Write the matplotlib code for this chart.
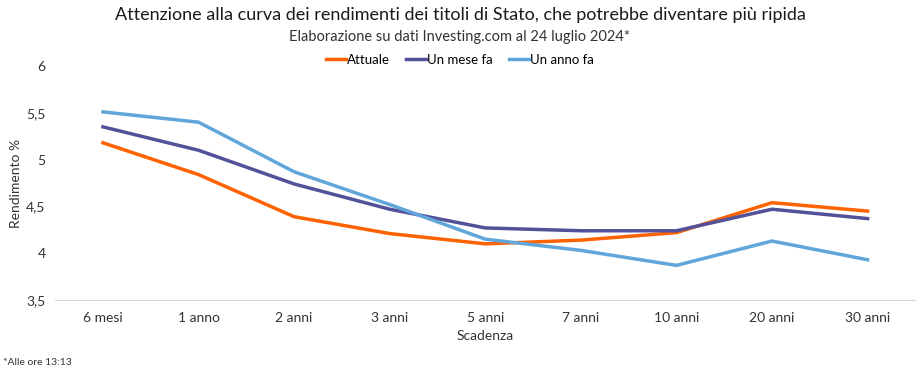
import matplotlib.pyplot as plt
from matplotlib.ticker import FuncFormatter

plt.rcParams['font.family'] = ['Lato', 'DejaVu Sans']

scadenze = ['6 mesi', '1 anno', '2 anni', '3 anni', '5 anni', '7 anni', '10 anni', '20 anni', '30 anni']
attuale = [5.18, 4.84, 4.39, 4.21, 4.10, 4.14, 4.22, 4.54, 4.45]
un_mese_fa = [5.35, 5.10, 4.74, 4.47, 4.27, 4.24, 4.24, 4.47, 4.37]
un_anno_fa = [5.51, 5.40, 4.87, 4.52, 4.15, 4.03, 3.87, 4.13, 3.93]

fig = plt.figure(figsize=(9.2, 3.69), dpi=100)
ax = fig.add_axes([0.06, 0.187, 0.935, 0.634])

x = range(len(scadenze))
ax.plot(x, attuale, color='#FF6200', lw=2.5, label='Attuale')
ax.plot(x, un_mese_fa, color='#525199', lw=2.5, label='Un mese fa')
ax.plot(x, un_anno_fa, color='#60A6DA', lw=2.5, label='Un anno fa')

ax.set_xlim(-0.5, len(scadenze) - 0.5)
ax.set_ylim(3.5, 6)
ax.set_yticks([3.5, 4, 4.5, 5, 5.5, 6])
ax.yaxis.set_major_formatter(FuncFormatter(lambda v, p: ('%g' % v).replace('.', ',')))
ax.set_xticks(list(x))
ax.set_xticklabels(scadenze)
ax.tick_params(length=0, labelsize=10, colors='#333333')
ax.tick_params(axis='x', pad=9)
ax.tick_params(axis='y', pad=7)

for s in ['top', 'right', 'left']:
    ax.spines[s].set_visible(False)
ax.spines['bottom'].set_color('#d9d9d9')

ax.set_xlabel('Scadenza', fontsize=10, color='#333333', labelpad=4)
ax.set_ylabel('Rendimento %', fontsize=10, color='#333333', labelpad=3)

fig.text(0.5, 0.945, 'Attenzione alla curva dei rendimenti dei titoli di Stato, che potrebbe diventare più ripida',
         ha='center', fontsize=13, color='#1a1a1a')
fig.text(0.5, 0.89, 'Elaborazione su dati Investing.com al 24 luglio 2024*',
         ha='center', fontsize=10.5, color='#333333')
fig.legend(loc='center', bbox_to_anchor=(0.5, 0.838), ncol=3, frameon=False,
           fontsize=9.5, handlelength=1.5, handletextpad=0.1, columnspacing=1.2)
fig.text(0.003, 0.01, '*Alle ore 13:13', fontsize=7.5, color='#333333')

fig.savefig('out.png', dpi=100)
